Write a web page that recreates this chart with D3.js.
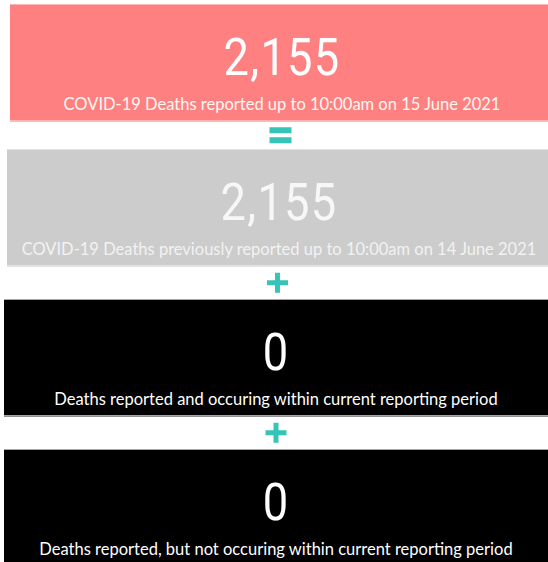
<!DOCTYPE html>
<html>
<head>
<meta charset="utf-8">
<script src="https://cdn.jsdelivr.net/npm/d3@7"></script>
<style>
  html, body { margin: 0; padding: 0; background: #fff; overflow: hidden; }
  svg { display: block; }
</style>
</head>
<body>
<div id="chart"></div>
<script>
// headline values, one per card
const values = [2155, 2155, 0, 0];
const captions = [
  'COVID-19 Deaths reported up to 10:00am on 15 June 2021',
  'COVID-19 Deaths previously reported up to 10:00am on 14 June 2021',
  'Deaths reported and occuring within current reporting period',
  'Deaths reported, but not occuring within current reporting period'
];
// sign shown between card i and card i + 1
const operators = ['=', '+', '+'];

const width = 548;
const height = 562;
const cardH = 117.5;
const cardW = 548;

const fill = d3.scaleOrdinal().domain([0, 1, 2, 3])
  .range(['#ff8080', '#cccccc', '#000000', '#000000']);
const captionColor = d3.scaleOrdinal().domain([0, 1, 2, 3])
  .range(['#fff7f2', '#f2f2f2', '#ffffff', '#ffffff']);
const edge = d3.scaleOrdinal().domain([0, 1, 2, 3])
  .range(['#ffb3b3', '#e2e2e2', '#a6a6a6', '#a6a6a6']);

// card top and left edge (the snapshot is slightly skewed)
const y = d3.scaleLinear().domain([0, 1, 3]).range([4, 149, 449]);
const x = d3.scaleLinear().domain([0, 2]).range([10, 4]).clamp(true);
const centre = i => x(i) + 272;

const fmt = d3.format(',');

const svg = d3.select('#chart')
  .append('svg')
  .attr('width', width)
  .attr('height', height);

const cards = svg.selectAll('.card')
  .data(values)
  .enter()
  .append('g')
  .attr('class', 'card')
  .attr('transform', (d, i) => `translate(0, ${y(i)})`);

cards.append('rect')
  .attr('x', (d, i) => x(i))
  .attr('y', 0)
  .attr('width', cardW)
  .attr('height', cardH)
  .attr('fill', (d, i) => fill(i));

// thin rule along top and bottom
cards.append('rect')
  .attr('x', (d, i) => x(i))
  .attr('y', 0)
  .attr('width', cardW)
  .attr('height', 1)
  .attr('fill', (d, i) => edge(i));

cards.append('rect')
  .attr('x', (d, i) => x(i))
  .attr('y', cardH - 1.5)
  .attr('width', cardW)
  .attr('height', 1.5)
  .attr('fill', (d, i) => edge(i));

cards.append('text')
  .attr('transform', (d, i) => `translate(${centre(i)}, 71) scale(0.87, 1)`)
  .attr('text-anchor', 'middle')
  .attr('font-family', 'Roboto, sans-serif')
  .attr('font-size', 52)
  .attr('letter-spacing', 1.5)
  .attr('fill', (d, i) => i === 1 ? '#f7f7f7' : '#ffffff')
  .text(d => fmt(d));

cards.append('text')
  .attr('x', (d, i) => centre(i))
  .attr('y', 106)
  .attr('text-anchor', 'middle')
  .attr('font-family', 'Lato, sans-serif')
  .attr('font-size', 16.5)
  .attr('fill', (d, i) => captionColor(i))
  .text((d, i) => captions[i]);

// operator signs sit in the gap between consecutive cards
const ops = svg.selectAll('.op')
  .data(operators)
  .enter()
  .append('g')
  .attr('class', 'op')
  .attr('transform', (d, i) => {
    const cy = (y(i) + cardH + y(i + 1)) / 2;
    const cx = (centre(i) + centre(i + 1)) / 2;
    return `translate(${cx}, ${cy})`;
  });

const teal = '#35c4b7';

ops.filter(d => d === '=')
  .selectAll('rect')
  .data([-5, 5])
  .enter()
  .append('rect')
  .attr('x', -11)
  .attr('y', d => d - 3)
  .attr('width', 22)
  .attr('height', 6)
  .attr('fill', teal);

ops.filter(d => d === '+')
  .selectAll('rect')
  .data([[-10.5, -2.5, 21, 5], [-2.5, -10, 5, 20]])
  .enter()
  .append('rect')
  .attr('x', d => d[0])
  .attr('y', d => d[1])
  .attr('width', d => d[2])
  .attr('height', d => d[3])
  .attr('fill', teal);
</script>
</body>
</html>
